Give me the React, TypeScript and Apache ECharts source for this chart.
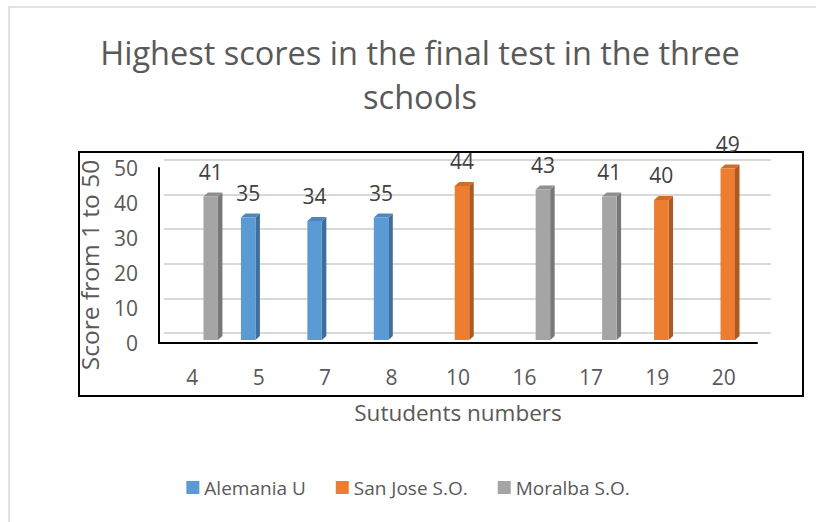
import React, { useEffect, useRef } from "react";
import * as echarts from "echarts";

const categories = ["4", "5", "7", "8", "10", "16", "17", "19", "20"];
const seriesNames = ["Alemania U", "San Jose S.O.", "Moralba S.O."];
// [category index, score]
const alemaniaU = [[1, 35], [2, 34], [3, 35]];
const sanJose = [[4, 44], [7, 40], [8, 49]];
const moralba = [[0, 41], [5, 43], [6, 41]];
const yTicks = { min: 0, max: 50, interval: 10 };

const frontColors = ["#5B9BD5", "#ED7D31", "#A5A5A5"];
const sideColors = ["#3E6E9C", "#AD5A20", "#787878"];
const topColors = ["#4F86BA", "#CF6C28", "#8F8F8F"];

const FONT = "'Open Sans', sans-serif";

function makeRender(k: number) {
  return (params: any, api: any) => {
    const cat = api.value(0);
    const v = api.value(1);
    const base = api.coord([cat, 0]);
    const top = api.coord([cat, v]);
    const band = api.size([1, 0])[0];
    const w = band * 0.218;
    const cx = base[0] + (k - 1) * w + band * 0.06;
    const x0 = cx - w / 2;
    const x1 = cx + w / 2;
    const lift = 3;
    const yb = base[1] - lift;
    const yt = top[1] - lift;
    const dx = 4.5;
    const dy = 4;
    return {
      type: "group",
      children: [
        {
          type: "polygon",
          shape: { points: [[x1, yt], [x1 + dx, yt - dy], [x1 + dx, yb - dy], [x1, yb]] },
          style: { fill: sideColors[k] },
        },
        {
          type: "polygon",
          shape: { points: [[x0, yt], [x0 + dx, yt - dy], [x1 + dx, yt - dy], [x1, yt]] },
          style: { fill: topColors[k] },
        },
        {
          type: "rect",
          shape: { x: x0, y: yt, width: w, height: yb - yt },
          style: { fill: frontColors[k] },
        },
        {
          type: "text",
          style: {
            text: String(v),
            x: cx,
            y: yt - 25,
            align: "center",
            verticalAlign: "middle",
            fontSize: 21,
            fontFamily: FONT,
            fill: "#404040",
          },
        },
      ],
    };
  };
}

export default function App() {
  const ref = useRef<HTMLDivElement>(null);
  useEffect(() => {
    if (!ref.current) return;
    const chart = echarts.init(ref.current, null, { renderer: "svg" });
    const datasets = [alemaniaU, sanJose, moralba];
    chart.setOption({
      animation: false,
      backgroundColor: "#ffffff",
      title: {
        text: "Highest scores in the final test in the three\nschools",
        left: 415,
        top: 25,
        textAlign: "center",
        textStyle: {
          fontFamily: FONT,
          fontSize: 32.5,
          fontWeight: "normal",
          color: "#595959",
          lineHeight: 44,
        },
      },
      legend: {
        data: seriesNames.map((n) => ({ name: n, icon: "rect" })),
        bottom: 20,
        left: "center",
        itemWidth: 13,
        itemHeight: 13,
        itemGap: 30,
        textStyle: { fontFamily: FONT, fontSize: 19, color: "#595959" },
      },
      graphic: [
        {
          type: "rect",
          shape: { x: 9, y: 7, width: 900, height: 600 },
          style: { fill: "none", stroke: "#d9d9d9", lineWidth: 1.5 },
          silent: true,
        },
        {
          type: "rect",
          shape: { x: 79, y: 152, width: 724, height: 244 },
          style: { fill: "none", stroke: "#000000", lineWidth: 2 },
          silent: true,
        },
        {
          type: "text",
          x: 89,
          y: 265,
          rotation: Math.PI / 2,
          style: {
            text: "Score from 1 to 50",
            align: "center",
            verticalAlign: "middle",
            fontFamily: FONT,
            fontSize: 24.5,
            fill: "#595959",
          },
          z: 10,
        },
      ],
      grid: [
        { left: 159, right: 59, top: 168, bottom: 179 },
        { left: 164, right: 45, top: 160, bottom: 189 },
      ],
      xAxis: [
        {
          type: "category",
          gridIndex: 0,
          data: categories,
          axisLine: { show: true, lineStyle: { color: "#000000", width: 2 } },
          axisTick: { show: false },
          axisLabel: { margin: 23, fontFamily: FONT, fontSize: 21, color: "#595959" },
          splitLine: { show: false },
          name: "Sutudents numbers",
          nameLocation: "middle",
          nameGap: 58,
          nameTextStyle: { fontFamily: FONT, fontSize: 22.5, color: "#595959" },
        },
        { type: "value", gridIndex: 1, show: false },
      ],
      yAxis: [
        {
          type: "value",
          gridIndex: 0,
          min: yTicks.min,
          max: yTicks.max,
          interval: yTicks.interval,
          axisLine: { show: true, lineStyle: { color: "#000000", width: 2 } },
          axisTick: { show: false },
          splitLine: { show: false },
          axisLabel: { margin: 21, fontFamily: FONT, fontSize: 21, color: "#595959" },
        },
        {
          type: "value",
          gridIndex: 1,
          min: yTicks.min,
          max: yTicks.max,
          interval: yTicks.interval,
          axisLine: { show: false },
          axisTick: { show: false },
          axisLabel: { show: false },
          splitLine: { show: true, lineStyle: { color: "#d9d9d9", width: 2 } },
        },
      ],
      series: datasets.map((d, k) => ({
        type: "custom",
        name: seriesNames[k],
        xAxisIndex: 0,
        yAxisIndex: 0,
        itemStyle: { color: frontColors[k] },
        encode: { x: 0, y: 1 },
        data: d,
        renderItem: makeRender(k),
        z: 5,
      })),
    });
    return () => chart.dispose();
  }, []);
  return (
    <div
      ref={ref}
      style={{ position: "fixed", left: 0, top: 0, width: 816, height: 522 }}
    />
  );
}
